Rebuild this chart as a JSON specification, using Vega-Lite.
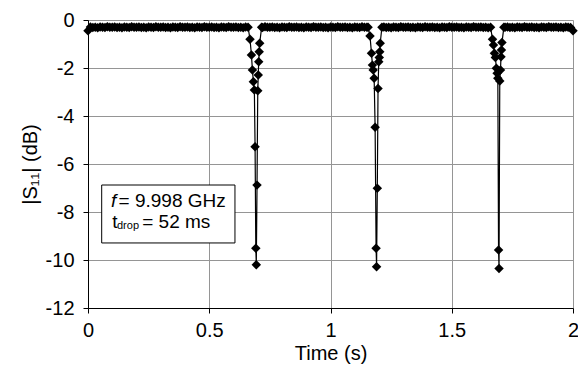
{
  "$schema": "https://vega.github.io/schema/vega-lite/v6.json",
  "width": 485,
  "height": 288,
  "autosize": {"type": "none"},
  "padding": {"left": 88, "top": 20, "right": 5, "bottom": 63},
  "background": "white",
  "config": {
    "view": {"stroke": null},
    "font": "Liberation Sans",
    "axis": {
      "labelFont": "Liberation Sans",
      "titleFont": "Liberation Sans",
      "labelFontSize": 20,
      "titleFontSize": 20,
      "titleFontWeight": "normal",
      "labelColor": "black",
      "titleColor": "black",
      "domainColor": "black",
      "tickColor": "black",
      "tickSize": 5,
      "gridColor": "#959595",
      "gridWidth": 1
    }
  },
  "datasets": {
    "trace": [
      {"t":0.00,"s":-0.45},{"t":0.01,"s":-0.29},{"t":0.02,"s":-0.31},{"t":0.03,"s":-0.30},{"t":0.04,"s":-0.32},{"t":0.05,"s":-0.29},{"t":0.06,"s":-0.30},{"t":0.07,"s":-0.31},{"t":0.08,"s":-0.28},{"t":0.09,"s":-0.30},
      {"t":0.10,"s":-0.30},{"t":0.11,"s":-0.29},{"t":0.12,"s":-0.31},{"t":0.13,"s":-0.30},{"t":0.14,"s":-0.32},{"t":0.15,"s":-0.29},{"t":0.16,"s":-0.30},{"t":0.17,"s":-0.31},{"t":0.18,"s":-0.28},{"t":0.19,"s":-0.30},
      {"t":0.20,"s":-0.30},{"t":0.21,"s":-0.29},{"t":0.22,"s":-0.31},{"t":0.23,"s":-0.30},{"t":0.24,"s":-0.32},{"t":0.25,"s":-0.29},{"t":0.26,"s":-0.30},{"t":0.27,"s":-0.31},{"t":0.28,"s":-0.28},{"t":0.29,"s":-0.30},
      {"t":0.30,"s":-0.30},{"t":0.31,"s":-0.29},{"t":0.32,"s":-0.31},{"t":0.33,"s":-0.30},{"t":0.34,"s":-0.32},{"t":0.35,"s":-0.29},{"t":0.36,"s":-0.30},{"t":0.37,"s":-0.31},{"t":0.38,"s":-0.28},{"t":0.39,"s":-0.30},
      {"t":0.40,"s":-0.30},{"t":0.41,"s":-0.29},{"t":0.42,"s":-0.31},{"t":0.43,"s":-0.30},{"t":0.44,"s":-0.32},{"t":0.45,"s":-0.29},{"t":0.46,"s":-0.30},{"t":0.47,"s":-0.31},{"t":0.48,"s":-0.28},{"t":0.49,"s":-0.30},
      {"t":0.50,"s":-0.30},{"t":0.51,"s":-0.29},{"t":0.52,"s":-0.31},{"t":0.53,"s":-0.30},{"t":0.54,"s":-0.32},{"t":0.55,"s":-0.29},{"t":0.56,"s":-0.30},{"t":0.57,"s":-0.31},{"t":0.58,"s":-0.28},{"t":0.59,"s":-0.30},
      {"t":0.60,"s":-0.30},{"t":0.61,"s":-0.29},{"t":0.62,"s":-0.31},{"t":0.63,"s":-0.30},{"t":0.64,"s":-0.32},{"t":0.65,"s":-0.29},
      {"t":0.660,"s":-0.30},{"t":0.668,"s":-0.80},{"t":0.674,"s":-1.46},{"t":0.678,"s":-2.08},{"t":0.682,"s":-2.57},{"t":0.686,"s":-2.92},{"t":0.689,"s":-5.28},{"t":0.692,"s":-9.51},{"t":0.694,"s":-10.20},{"t":0.697,"s":-6.88},{"t":0.700,"s":-2.95},{"t":0.702,"s":-2.29},{"t":0.704,"s":-1.74},{"t":0.706,"s":-1.32},{"t":0.708,"s":-0.97},{"t":0.716,"s":-0.30},
      {"t":0.72,"s":-0.31},{"t":0.73,"s":-0.28},{"t":0.74,"s":-0.30},{"t":0.75,"s":-0.30},{"t":0.76,"s":-0.29},{"t":0.77,"s":-0.31},{"t":0.78,"s":-0.30},{"t":0.79,"s":-0.32},
      {"t":0.80,"s":-0.29},{"t":0.81,"s":-0.30},{"t":0.82,"s":-0.31},{"t":0.83,"s":-0.28},{"t":0.84,"s":-0.30},{"t":0.85,"s":-0.30},{"t":0.86,"s":-0.29},{"t":0.87,"s":-0.31},{"t":0.88,"s":-0.30},{"t":0.89,"s":-0.32},
      {"t":0.90,"s":-0.29},{"t":0.91,"s":-0.30},{"t":0.92,"s":-0.31},{"t":0.93,"s":-0.28},{"t":0.94,"s":-0.30},{"t":0.95,"s":-0.30},{"t":0.96,"s":-0.29},{"t":0.97,"s":-0.31},{"t":0.98,"s":-0.30},{"t":0.99,"s":-0.32},
      {"t":1.00,"s":-0.29},{"t":1.01,"s":-0.30},{"t":1.02,"s":-0.31},{"t":1.03,"s":-0.28},{"t":1.04,"s":-0.30},{"t":1.05,"s":-0.30},{"t":1.06,"s":-0.29},{"t":1.07,"s":-0.31},{"t":1.08,"s":-0.30},{"t":1.09,"s":-0.32},
      {"t":1.10,"s":-0.29},{"t":1.11,"s":-0.30},{"t":1.12,"s":-0.31},{"t":1.13,"s":-0.28},{"t":1.14,"s":-0.30},{"t":1.15,"s":-0.30},
      {"t":1.155,"s":-0.30},{"t":1.163,"s":-0.67},{"t":1.169,"s":-1.39},{"t":1.173,"s":-1.88},{"t":1.176,"s":-2.08},{"t":1.180,"s":-2.43},{"t":1.184,"s":-4.47},{"t":1.188,"s":-9.51},{"t":1.190,"s":-10.28},{"t":1.193,"s":-7.01},{"t":1.196,"s":-2.85},{"t":1.199,"s":-1.74},{"t":1.201,"s":-1.56},{"t":1.203,"s":-1.32},{"t":1.205,"s":-0.97},{"t":1.212,"s":-0.30},
      {"t":1.22,"s":-0.29},{"t":1.23,"s":-0.31},{"t":1.24,"s":-0.30},{"t":1.25,"s":-0.32},{"t":1.26,"s":-0.29},{"t":1.27,"s":-0.30},{"t":1.28,"s":-0.31},{"t":1.29,"s":-0.28},
      {"t":1.30,"s":-0.30},{"t":1.31,"s":-0.30},{"t":1.32,"s":-0.29},{"t":1.33,"s":-0.31},{"t":1.34,"s":-0.30},{"t":1.35,"s":-0.32},{"t":1.36,"s":-0.29},{"t":1.37,"s":-0.30},{"t":1.38,"s":-0.31},{"t":1.39,"s":-0.28},
      {"t":1.40,"s":-0.30},{"t":1.41,"s":-0.30},{"t":1.42,"s":-0.29},{"t":1.43,"s":-0.31},{"t":1.44,"s":-0.30},{"t":1.45,"s":-0.32},{"t":1.46,"s":-0.29},{"t":1.47,"s":-0.30},{"t":1.48,"s":-0.31},{"t":1.49,"s":-0.28},
      {"t":1.50,"s":-0.30},{"t":1.51,"s":-0.30},{"t":1.52,"s":-0.29},{"t":1.53,"s":-0.31},{"t":1.54,"s":-0.30},{"t":1.55,"s":-0.32},{"t":1.56,"s":-0.29},{"t":1.57,"s":-0.30},{"t":1.58,"s":-0.31},{"t":1.59,"s":-0.28},
      {"t":1.60,"s":-0.30},{"t":1.61,"s":-0.30},{"t":1.62,"s":-0.29},{"t":1.63,"s":-0.31},{"t":1.64,"s":-0.30},{"t":1.65,"s":-0.32},
      {"t":1.660,"s":-0.30},{"t":1.668,"s":-0.80},{"t":1.672,"s":-1.04},{"t":1.676,"s":-1.39},{"t":1.680,"s":-1.56},{"t":1.684,"s":-2.01},{"t":1.687,"s":-2.22},{"t":1.690,"s":-2.43},{"t":1.693,"s":-9.58},{"t":1.695,"s":-10.35},{"t":1.698,"s":-2.54},{"t":1.701,"s":-2.08},{"t":1.703,"s":-1.53},{"t":1.705,"s":-1.25},{"t":1.707,"s":-0.94},{"t":1.715,"s":-0.30},
      {"t":1.72,"s":-0.30},{"t":1.73,"s":-0.29},{"t":1.74,"s":-0.31},{"t":1.75,"s":-0.30},{"t":1.76,"s":-0.32},{"t":1.77,"s":-0.29},{"t":1.78,"s":-0.30},{"t":1.79,"s":-0.31},
      {"t":1.80,"s":-0.28},{"t":1.81,"s":-0.30},{"t":1.82,"s":-0.30},{"t":1.83,"s":-0.29},{"t":1.84,"s":-0.31},{"t":1.85,"s":-0.30},{"t":1.86,"s":-0.32},{"t":1.87,"s":-0.29},{"t":1.88,"s":-0.30},{"t":1.89,"s":-0.31},
      {"t":1.90,"s":-0.28},{"t":1.91,"s":-0.30},{"t":1.92,"s":-0.30},{"t":1.93,"s":-0.29},{"t":1.94,"s":-0.31},{"t":1.95,"s":-0.30},{"t":1.96,"s":-0.32},{"t":1.97,"s":-0.29},{"t":1.98,"s":-0.30},{"t":1.99,"s":-0.31},
      {"t":2.00,"s":-0.45}
    ],
    "box": [{"x1":0.0565,"x2":0.606,"y1":-6.875,"y2":-9.29}],
    "italic": [{"x":0.095,"y":-7.78,"txt":"f"}],
    "big": [
      {"x":0.126,"y":-7.78,"txt":"= 9.998 GHz"},
      {"x":0.1,"y":-8.68,"txt":"t"},
      {"x":0.2235,"y":-8.68,"txt":"= 52 ms"}
    ],
    "small": [{"x":0.1195,"y":-8.72,"txt":"drop"}]
  },
  "layer": [
    {
      "data": {"name": "trace"},
      "mark": {"type": "line", "color": "black", "strokeWidth": 1.2, "clip": false,
        "point": {"shape": "diamond", "filled": true, "color": "black", "size": 90}},
      "encoding": {
        "x": {"field": "t", "type": "quantitative",
          "scale": {"domain": [0, 2], "nice": false, "zero": false},
          "axis": {"values": [0, 0.5, 1, 1.5, 2], "title": "Time (s)", "labelPadding": 7, "titlePadding": 3,
            "labelExpr": "toString(datum.value)", "labelFlush": false, "grid": true}},
        "y": {"field": "s", "type": "quantitative",
          "scale": {"domain": [-12, 0], "nice": false},
          "axis": {"values": [-12, -10, -8, -6, -4, -2, 0], "title": "|S₁₁| (dB)", "labelPadding": 9, "titlePadding": 5,
            "labelExpr": "toString(datum.value)", "labelFlush": false, "grid": true}}
      }
    },
    {
      "data": {"name": "box"},
      "mark": {"type": "rect", "fill": "white", "stroke": "black", "strokeWidth": 1},
      "encoding": {
        "x": {"field": "x1", "type": "quantitative"},
        "x2": {"field": "x2"},
        "y": {"field": "y1", "type": "quantitative"},
        "y2": {"field": "y2"}
      }
    },
    {
      "data": {"name": "italic"},
      "mark": {"type": "text", "align": "left", "baseline": "alphabetic", "font": "Liberation Sans", "fontSize": 19, "fontStyle": "italic", "color": "black"},
      "encoding": {
        "x": {"field": "x", "type": "quantitative"},
        "y": {"field": "y", "type": "quantitative"},
        "text": {"field": "txt"}
      }
    },
    {
      "data": {"name": "big"},
      "mark": {"type": "text", "align": "left", "baseline": "alphabetic", "font": "Liberation Sans", "fontSize": 19, "color": "black"},
      "encoding": {
        "x": {"field": "x", "type": "quantitative"},
        "y": {"field": "y", "type": "quantitative"},
        "text": {"field": "txt"}
      }
    },
    {
      "data": {"name": "small"},
      "mark": {"type": "text", "align": "left", "baseline": "alphabetic", "font": "Liberation Sans", "fontSize": 11, "color": "black"},
      "encoding": {
        "x": {"field": "x", "type": "quantitative"},
        "y": {"field": "y", "type": "quantitative"},
        "text": {"field": "txt"}
      }
    }
  ]
}
